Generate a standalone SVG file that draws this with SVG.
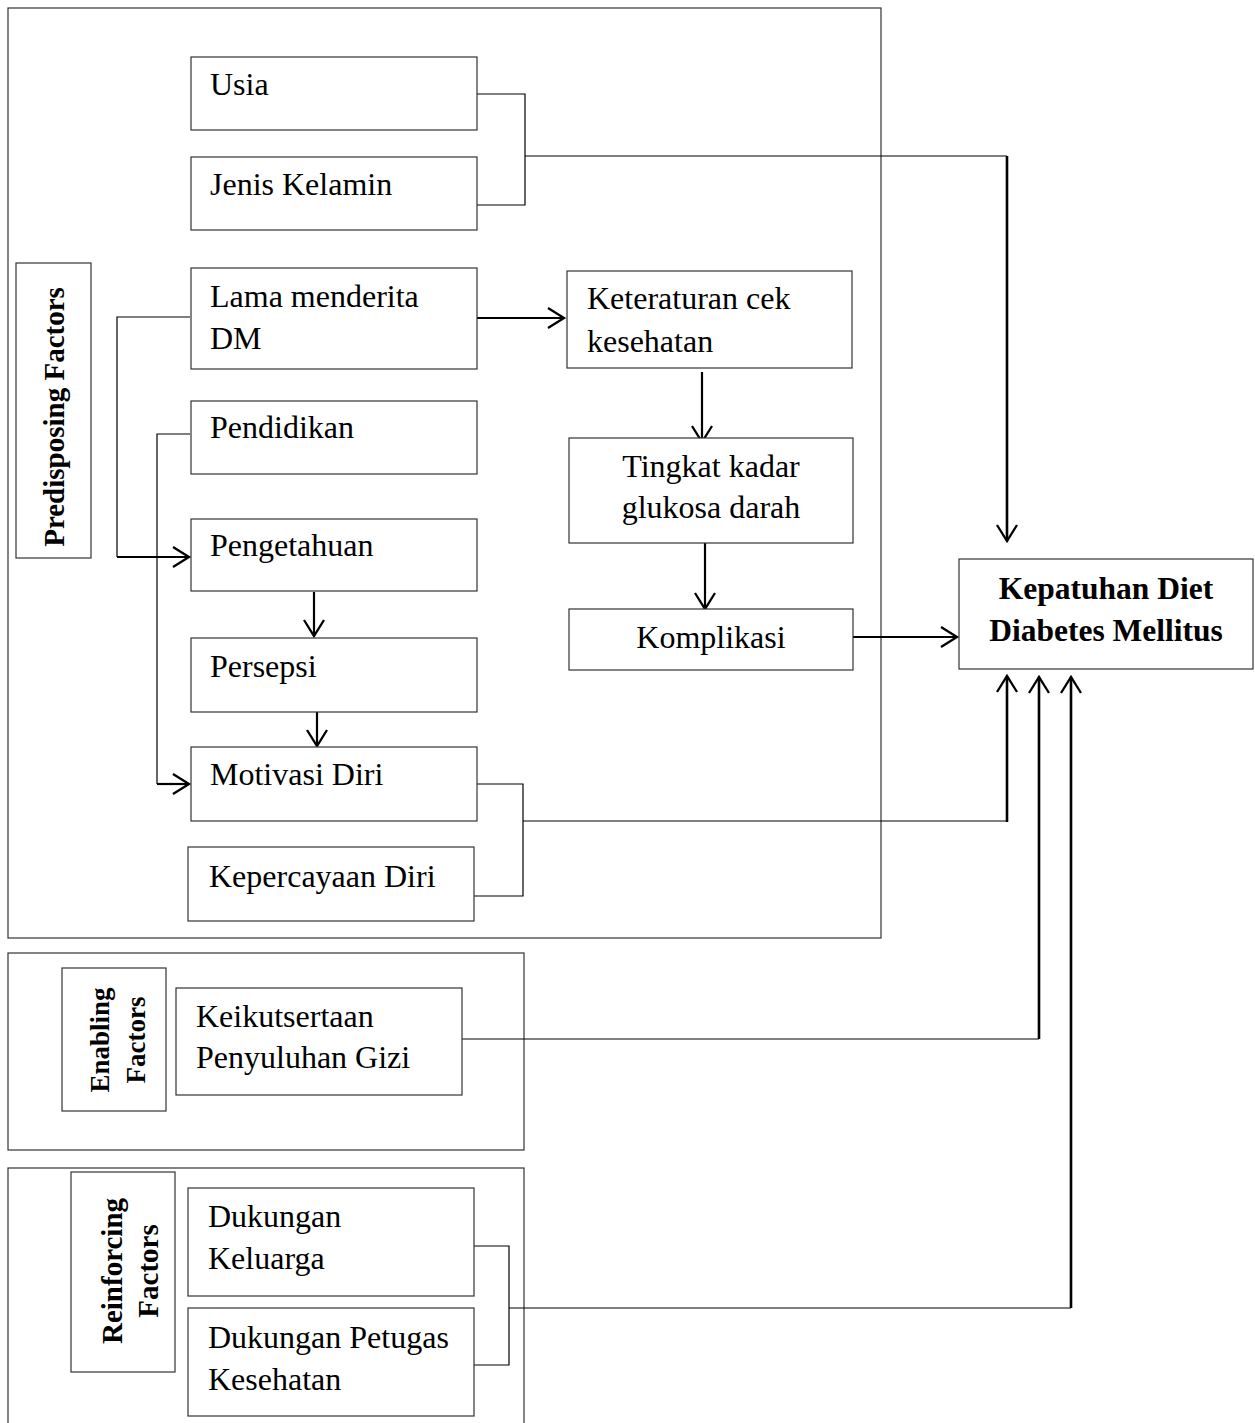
<svg xmlns="http://www.w3.org/2000/svg" width="1255" height="1423" viewBox="0 0 1255 1423">
<style>
.bx{fill:#fff;stroke:#333;stroke-width:1.2}
.fr{fill:none;stroke:#333;stroke-width:1.2}
.t{font-family:"Liberation Serif","Times New Roman",serif;font-size:32px;fill:#000}
.b{font-family:"Liberation Serif","Times New Roman",serif;font-weight:bold;fill:#000}
.thin{fill:none;stroke:#000;stroke-width:1.2}
.thick{fill:none;stroke:#000;stroke-width:2.2;marker-end:url(#ah)}
.vk{stroke-width:2.6}
</style>
<defs>
<marker id="ah" markerUnits="userSpaceOnUse" orient="auto" refX="0" refY="0" markerWidth="20" markerHeight="24" overflow="visible">
<path d="M-16,-10 L0,0 L-16,10" fill="none" stroke="#000" stroke-width="2.3"/>
</marker>
</defs>
<rect width="1255" height="1423" fill="#fff"/>
<g id="frame-predisposing"><rect class="fr" x="8" y="8" width="873" height="930"/></g>
<g id="frame-enabling"><rect class="fr" x="8" y="953" width="516" height="197"/></g>
<g id="frame-reinforcing"><rect class="fr" x="8" y="1168" width="516" height="270"/></g>

<g id="label-predisposing"><rect class="bx" x="16" y="263" width="75" height="295"/>
<text class="b" font-size="29" text-anchor="middle" transform="translate(64,417) rotate(-90)">Predisposing Factors</text></g>
<g id="label-enabling"><rect class="bx" x="62" y="968" width="104" height="143"/>
<text class="b" font-size="27" text-anchor="middle" transform="translate(109,1040) rotate(-90)">Enabling</text>
<text class="b" font-size="27" text-anchor="middle" transform="translate(145,1040) rotate(-90)">Factors</text></g>
<g id="label-reinforcing"><rect class="bx" x="71" y="1172" width="104" height="200"/>
<text class="b" font-size="29" text-anchor="middle" transform="translate(122,1271) rotate(-90)">Reinforcing</text>
<text class="b" font-size="29" text-anchor="middle" transform="translate(158,1271) rotate(-90)">Factors</text></g>

<g id="connectors">
<path class="thin" d="M477,94 H525 V205 H477"/>
<path class="thin" d="M525,156 H1007"/>
<path class="thick vk" d="M1007,156 V541"/>
<path class="thick" d="M477,318 H564"/>
<path class="thin" d="M190,317 H117 V557"/>
<path class="thick" d="M117,557 H189"/>
<path class="thin" d="M190,434 H157 V784"/>
<path class="thick" d="M157,784 H189"/>
<path class="thick" d="M314,592 V636"/>
<path class="thick" d="M317,712 V746"/>
<path class="thick" d="M702,372 V442"/>
<path class="thick" d="M705,543 V609"/>
<path class="thick" d="M853,637 H957"/>
<path class="thin" d="M477,784 H523 V896 H474"/>
<path class="thin" d="M523,821 H1007"/>
<path class="thick vk" d="M1007,822 V676"/>
<path class="thin" d="M462,1039 H1039"/>
<path class="thick vk" d="M1039,1039 V677"/>
<path class="thin" d="M474,1246 H509 V1365 H474"/>
<path class="thin" d="M509,1308 H1071"/>
<path class="thick vk" d="M1071,1308 V677"/>
</g>

<g id="usia"><rect class="bx" x="191" y="57" width="286" height="73"/><text class="t" x="210" y="95">Usia</text></g>
<g id="jenis-kelamin"><rect class="bx" x="191" y="157" width="286" height="73"/><text class="t" x="210" y="195">Jenis Kelamin</text></g>
<g id="lama-menderita"><rect class="bx" x="191" y="268" width="286" height="101"/><text class="t" x="210" y="307">Lama menderita</text><text class="t" x="210" y="349">DM</text></g>
<g id="pendidikan"><rect class="bx" x="191" y="401" width="286" height="73"/><text class="t" x="210" y="438">Pendidikan</text></g>
<g id="pengetahuan"><rect class="bx" x="191" y="519" width="286" height="72"/><text class="t" x="210" y="556">Pengetahuan</text></g>
<g id="persepsi"><rect class="bx" x="191" y="638" width="286" height="74"/><text class="t" x="210" y="677">Persepsi</text></g>
<g id="motivasi-diri"><rect class="bx" x="191" y="747" width="286" height="74"/><text class="t" x="210" y="785">Motivasi Diri</text></g>
<g id="kepercayaan-diri"><rect class="bx" x="188" y="847" width="286" height="74"/><text class="t" x="209" y="887">Kepercayaan Diri</text></g>
<g id="keteraturan"><rect class="bx" x="567" y="271" width="285" height="97"/><text class="t" x="587" y="309">Keteraturan cek</text><text class="t" x="587" y="352">kesehatan</text></g>
<g id="tingkat-kadar"><rect class="bx" x="569" y="438" width="284" height="105"/><text class="t" x="711" y="477" text-anchor="middle">Tingkat kadar</text><text class="t" x="711" y="518" text-anchor="middle">glukosa darah</text></g>
<g id="komplikasi"><rect class="bx" x="569" y="609" width="284" height="61"/><text class="t" x="711" y="648" text-anchor="middle">Komplikasi</text></g>
<g id="kepatuhan"><rect class="bx" x="959" y="559" width="294" height="110"/><text class="b" font-size="31.5" x="1106" y="599" text-anchor="middle">Kepatuhan Diet</text><text class="b" font-size="31.5" x="1106" y="641" text-anchor="middle">Diabetes Mellitus</text></g>
<g id="keikutsertaan"><rect class="bx" x="176" y="988" width="286" height="107"/><text class="t" x="196" y="1027">Keikutsertaan</text><text class="t" x="196" y="1068">Penyuluhan Gizi</text></g>
<g id="dukungan-keluarga"><rect class="bx" x="188" y="1188" width="286" height="108"/><text class="t" x="208" y="1227">Dukungan</text><text class="t" x="208" y="1269">Keluarga</text></g>
<g id="dukungan-petugas"><rect class="bx" x="188" y="1308" width="286" height="108"/><text class="t" x="208" y="1348">Dukungan Petugas</text><text class="t" x="208" y="1390">Kesehatan</text></g>
</svg>
